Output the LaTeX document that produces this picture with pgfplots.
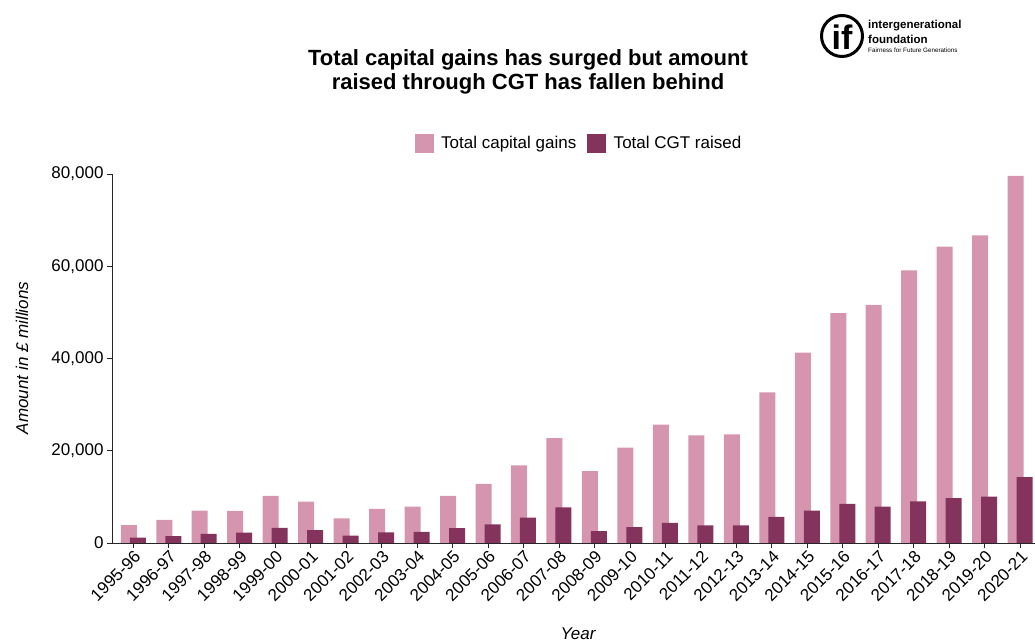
\documentclass[border=0pt]{standalone}
\usepackage{fontspec}
\setmainfont{Liberation Sans}
\usepackage{pgfplots}
\pgfplotsset{compat=1.18}
\definecolor{pinkc}{RGB}{213,149,175}
\definecolor{purp}{RGB}{132,51,92}
\begin{document}
\begin{tikzpicture}
\useasboundingbox (0pt,0pt) rectangle (1035pt,644pt);
\begin{axis}[
  at={(112pt,101pt)}, anchor=south west,
  width=923pt, height=369pt, scale only axis,
  xmin=-0.6, xmax=25.42, ymin=0, ymax=80000,
  axis x line*=bottom, axis y line*=left,
  axis line style={-, draw=black!85, line width=0.9pt},
  tick style={draw=black!85, line width=0.8pt},
  tick align=outside, major tick length=5pt,
  xtick={0,...,25},
  xticklabels={1995-96,1996-97,1997-98,1998-99,1999-00,2000-01,2001-02,2002-03,2003-04,2004-05,2005-06,2006-07,2007-08,2008-09,2009-10,2010-11,2011-12,2012-13,2013-14,2014-15,2015-16,2016-17,2017-18,2018-19,2019-20,2020-21},
  xticklabel style={rotate=45, anchor=north east, font=\fontsize{17}{20}\selectfont, inner sep=1pt},
  ytick={0,20000,40000,60000,80000},
  scaled y ticks=false,
  yticklabel style={font=\fontsize{17}{20}\selectfont},
  /pgf/number format/.cd, 1000 sep={,}, assume math mode=true, /pgfplots/.cd,
  legend columns=2,
  legend style={at={(0.506,1.084)}, anchor=center, draw=none, fill=none,
    font=\fontsize{17}{20}\selectfont,
    /tikz/every odd column/.append style={column sep=6pt},
    /tikz/every even column/.append style={column sep=9pt}},
  legend cell align=left,
]
\addlegendimage{legend image code/.code={\fill[pinkc] (0pt,-9pt) rectangle (18pt,9pt);}}
\addlegendentry{Total capital gains}
\addlegendimage{legend image code/.code={\fill[purp] (0pt,-9pt) rectangle (18pt,9pt);}}
\addlegendentry{Total CGT raised}
\addplot[ybar, bar width=16pt, bar shift=-4.5pt, fill=pinkc, draw=none, forget plot] coordinates {
(0,3900) (1,5000) (2,7000) (3,6950) (4,10200) (5,8980) (6,5350) (7,7400) (8,7900) (9,10200)
(10,12800) (11,16850) (12,22750) (13,15600) (14,20650) (15,25650) (16,23350) (17,23550) (18,32650)
(19,41250) (20,49850) (21,51600) (22,59100) (23,64250) (24,66700) (25,79600)};
\addplot[ybar, bar width=16pt, bar shift=4.5pt, fill=purp, draw=none, forget plot] coordinates {
(0,1150) (1,1500) (2,2000) (3,2250) (4,3300) (5,2800) (6,1600) (7,2300) (8,2400) (9,3250)
(10,4050) (11,5500) (12,7700) (13,2600) (14,3450) (15,4350) (16,3800) (17,3800) (18,5650)
(19,7000) (20,8500) (21,7900) (22,9000) (23,9750) (24,10050) (25,14300)};
\end{axis}
% title
\node[align=center, font=\bfseries\fontsize{22}{24}\selectfont] at (528pt,572pt) {Total capital gains has surged but amount\\ raised through CGT has fallen behind};
% axis labels
\node[font=\itshape\fontsize{17}{20}\selectfont] at (578pt,10pt) {Year};
\node[font=\itshape\fontsize{17}{20}\selectfont, rotate=90] at (22pt,286pt) {Amount in £ millions};
% logo
\draw[line width=3pt] (842pt,608pt) circle (20.5pt);
\node[font=\bfseries\fontsize{34}{34}\selectfont, inner sep=0pt] at (842pt,607pt) {if};
\node[anchor=west, font=\bfseries\fontsize{11.5}{12}\selectfont, inner sep=0pt] at (868pt,618pt) {intergenerational};
\node[anchor=west, font=\bfseries\fontsize{11.5}{12}\selectfont, inner sep=0pt] at (868pt,605pt) {foundation};
\node[anchor=west, font=\fontsize{6.3}{7}\selectfont, inner sep=0pt] at (868pt,594pt) {Fairness for Future Generations};
\end{tikzpicture}
\end{document}
